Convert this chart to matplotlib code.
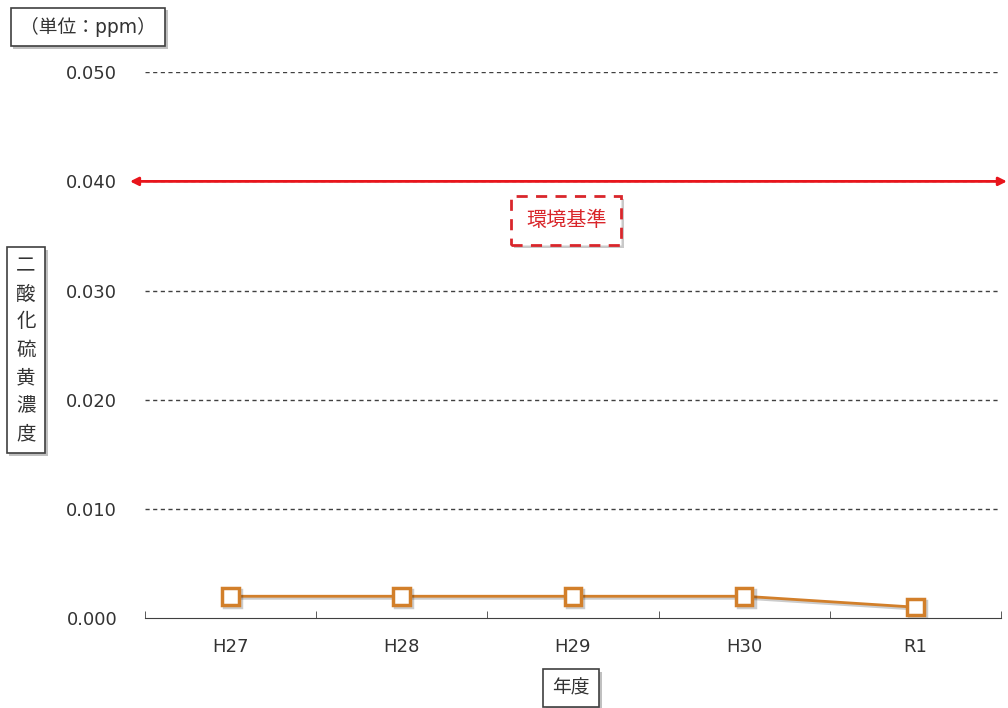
import numpy as np
import matplotlib.pyplot as plt
import matplotlib.patheffects as pe

plt.rcParams['font.family'] = ['DejaVu Sans', 'Noto Sans CJK JP']

# data
years = ['H27', 'H28', 'H29', 'H30', 'R1']
so2 = [0.002, 0.002, 0.002, 0.002, 0.001]
standard = 0.040
yticks = [0.000, 0.010, 0.020, 0.030, 0.040, 0.050]

fig = plt.figure(figsize=(10.08, 7.08), dpi=100)
ax = fig.add_axes([0.1438, 0.127, 0.8492, 0.771])

x = np.arange(len(years))
ax.plot(x, so2, color='#D27F2A', lw=2, marker='s', ms=12,
        mfc='white', mec='#D27F2A', mew=2.5, zorder=3,
        path_effects=[pe.SimpleLineShadow(offset=(1.5, -1.5), alpha=0.2), pe.Normal()])

ax.set_xlim(-0.5, len(years) - 0.5)
ax.set_ylim(0, 0.05)
ax.set_yticks(yticks)
ax.set_yticklabels(['%.3f' % v for v in yticks])
ax.set_xticks(x)
ax.set_xticklabels(years)
ax.set_xticks(np.arange(-0.5, len(years), 1), minor=True)
ax.tick_params(axis='both', which='major', length=0, labelsize=13,
               labelcolor='#333333', pad=14)
ax.tick_params(axis='y', pad=20)
ax.tick_params(axis='x', which='minor', direction='in', length=5, color='#404040')

for v in yticks[1:]:
    ax.axhline(v, color='#404040', ls=(0, (3, 2.5)), lw=1, zorder=1)

for s in ['top', 'right', 'left']:
    ax.spines[s].set_visible(False)
ax.spines['bottom'].set_color('#404040')

# environmental standard arrow
ax.annotate('', xy=(1.007, standard), xytext=(-0.0175, standard),
            xycoords=('axes fraction', 'data'), textcoords=('axes fraction', 'data'),
            arrowprops=dict(arrowstyle='<|-|>', color='#E8141B', lw=2,
                            mutation_scale=12, shrinkA=0, shrinkB=0),
            annotation_clip=False, zorder=4)
ax.text(0.492, 0.0364, '環境基準', transform=ax.get_yaxis_transform(),
        ha='center', va='center', fontsize=14.5, color='#D9262B',
        bbox=dict(boxstyle='square,pad=0.75', fc='white', ec='#D9262B',
                  lw=2, ls=(0, (4, 3)),
                  path_effects=[pe.SimplePatchShadow(offset=(2, -2), alpha=0.3), pe.Normal()]))

# label boxes
box = dict(boxstyle='square,pad=0.5', fc='white', ec='#404040', lw=1.2,
           path_effects=[pe.SimplePatchShadow(offset=(2, -2), alpha=0.35), pe.Normal()])
fig.text(88 / 1008, 1 - 27 / 708, '（単位：ppm）', ha='center', va='center',
         fontsize=13.5, color='#333333', bbox=box)
fig.text(26 / 1008, 1 - 350 / 708, '\n'.join('二酸化硫黄濃度'), ha='center', va='center',
         fontsize=14, color='#333333', linespacing=1.6, bbox=box)
fig.text(571 / 1008, 1 - 688 / 708, '年度', ha='center', va='center',
         fontsize=13.5, color='#333333', bbox=box)

fig.savefig('out.png', dpi=100)
